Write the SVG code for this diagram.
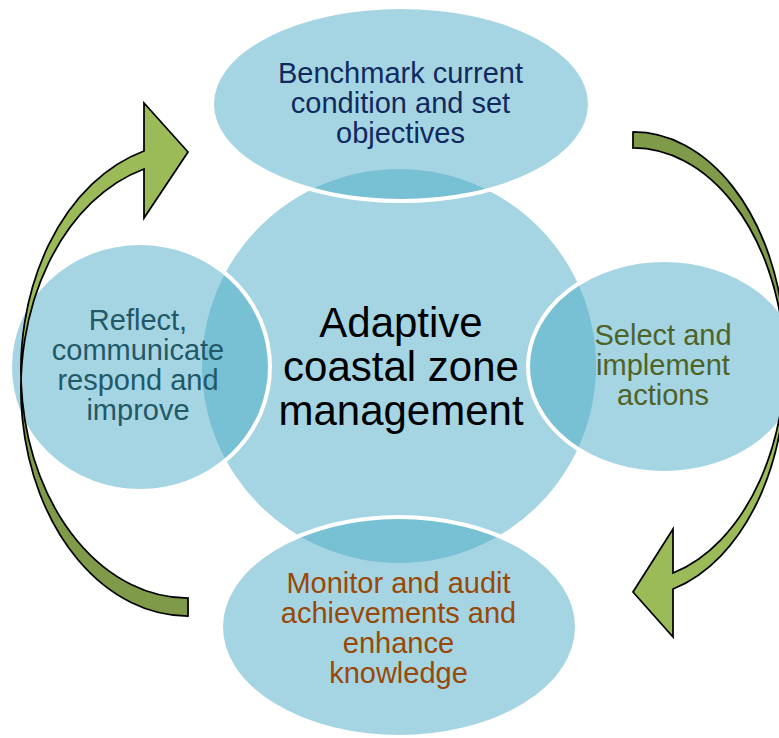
<svg xmlns="http://www.w3.org/2000/svg" width="779" height="738" viewBox="0 0 779 738">
  <defs>
    <style>
      .bubble { fill: #4BACC6; fill-opacity: 0.5; }
      .sat { stroke: #FFFFFF; stroke-width: 4; }
      .lbl { font-family: "Liberation Sans", Arial, sans-serif; font-size: 29px; text-anchor: middle; }
      .hub { font-family: "Liberation Sans", Arial, sans-serif; font-size: 42px; text-anchor: middle; fill: #000000; }
      .back { fill: #7F9A48; }
      .front { fill: #9BBB59; }
      .edge { fill: none; stroke: #000000; stroke-width: 1.75; stroke-linejoin: miter; }
    </style>
  </defs>
  <rect width="779" height="738" fill="#FFFFFF"/>

  <!-- hub -->
  <g id="hub">
    <circle class="bubble" cx="399" cy="366" r="197"/>
    <text class="hub" x="401" y="337">Adaptive</text>
    <text class="hub" x="401" y="381">coastal zone</text>
    <text class="hub" x="401" y="425">management</text>
  </g>

  <!-- satellite stages -->
  <g id="benchmark">
    <ellipse class="bubble sat" cx="401" cy="104" rx="189" ry="97"/>
    <text class="lbl" fill="#10295F" x="400.5" y="83">Benchmark current</text>
    <text class="lbl" fill="#10295F" x="400.5" y="113">condition and set</text>
    <text class="lbl" fill="#10295F" x="400.5" y="143">objectives</text>
  </g>

  <g id="implement">
    <ellipse class="bubble sat" cx="664" cy="366.5" rx="136" ry="106.5"/>
    <text class="lbl" fill="#4F6228" x="663" y="345">Select and</text>
    <text class="lbl" fill="#4F6228" x="663" y="375">implement</text>
    <text class="lbl" fill="#4F6228" x="663" y="405">actions</text>
  </g>

  <g id="monitor">
    <ellipse class="bubble sat" cx="399" cy="627" rx="178" ry="110"/>
    <text class="lbl" fill="#984807" x="398.5" y="593">Monitor and audit</text>
    <text class="lbl" fill="#984807" x="398.5" y="623">achievements and</text>
    <text class="lbl" fill="#984807" x="398.5" y="653">enhance</text>
    <text class="lbl" fill="#984807" x="398.5" y="683">knowledge</text>
  </g>

  <g id="reflect">
    <ellipse class="bubble sat" cx="140" cy="367" rx="130" ry="124"/>
    <text class="lbl" fill="#215968" x="138" y="330">Reflect,</text>
    <text class="lbl" fill="#215968" x="138" y="360">communicate</text>
    <text class="lbl" fill="#215968" x="138" y="390">respond and</text>
    <text class="lbl" fill="#215968" x="138" y="420">improve</text>
  </g>

  <!-- curved cycle arrows -->
  <g id="connectors">
    <g id="arrow-left">
      <path class="back" d="M188,616 A167,227.5 0 0 1 21,388.5 L21,370.5 A167,227.5 0 0 0 188,598 Z"/>
      <path class="front" d="M21,388.5 A167,227.5 0 0 1 144,169 L144,218 L188,152 L144,103 L144,151 A167,227.5 0 0 0 21,370.5 Z"/>
      <path class="edge" d="M188,616 A167,227.5 0 0 1 144,169 L144,218 L188,152 L144,103 L144,151 A167,227.5 0 0 0 188,598 Z"/>
    </g>
    <g id="arrow-right">
      <path class="back" d="M633,132 A152,224.4 0 0 1 785,356.4 L785,372.4 A152,224.4 0 0 0 633,148 Z"/>
      <path class="front" d="M785,356.4 A152,224.4 0 0 1 673,573 L673,529 L633,592 L673,637 L673,589 A152,224.4 0 0 0 785,372.4 Z"/>
      <path class="edge" d="M633,132 A152,224.4 0 0 1 673,573 L673,529 L633,592 L673,637 L673,589 A152,224.4 0 0 0 633,148 Z"/>
    </g>
  </g>
</svg>
